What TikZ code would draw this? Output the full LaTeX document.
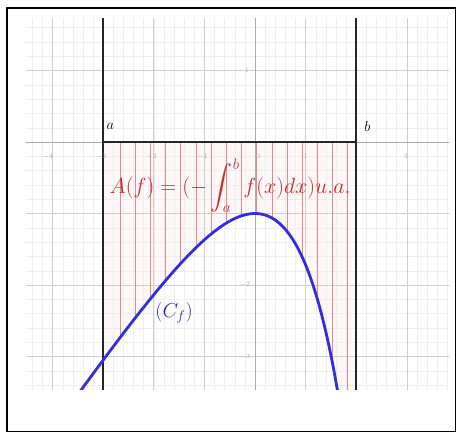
\documentclass[tikz,border=0pt]{standalone}
\usepackage{amsmath}
\usepackage{graphicx}
\definecolor{ggblue}{RGB}{50,45,225}
\definecolor{ggred}{RGB}{205,45,45}
\tikzset{
  minorgrid/.style={gray!13, line width=0.4pt},
  majorgrid/.style={gray!38, line width=0.6pt},
  axisline/.style={gray!65, line width=1pt},
  boundline/.style={black!85, line width=2.4pt},
  hatch/.style={ggred!55, line width=0.6pt},
  curve/.style={ggblue, line width=2.8pt},
  ticklbl/.style={gray!70, font=\sffamily\fontsize{7}{8}\selectfont, inner sep=1pt},
  ptlbl/.style={black, font=\fontsize{14.4}{17}\selectfont, inner sep=1pt}
}
\begin{document}
\begin{tikzpicture}[x=50.6pt,y=71.5pt]
\useasboundingbox (-5.0395,1.986) rectangle (3.992,-4.056);
\fill[white] (-5.0395,1.986) rectangle (3.992,-4.056);
\draw[black, line width=1.2pt] (-4.90,1.874) rectangle (3.955,-4.045);
\begin{scope}
  \clip (-4.526,-3.455) rectangle (3.834,1.734);
  \fill[ggred!4] (-3,0) -- plot[domain=-3:2, samples=80] (\x,{\x-exp(\x)}) -- (2,0) -- cycle;
  \draw[minorgrid, xstep=0.2, ystep=0.2] (-4.6,-3.6) grid (3.9,1.8);
  \draw[majorgrid, step=1] (-4.6,-3.6) grid (3.9,1.8);
  \draw[axisline] (-4.6,0) -- (3.9,0);
  \draw[axisline] (0,-3.6) -- (0,1.8);
  \foreach \i in {0,...,15} {
    \pgfmathsetmacro\u{-2.668+0.3*\i}
    \draw[hatch] (\u,0) -- (\u,{max(\u-exp(\u),-3.6)});
  }
  \draw[boundline] (-3,-3.6) -- (-3,1.8);
  \draw[boundline] (2,-3.6) -- (2,1.8);
  \draw[boundline] (-3,0) -- (2,0);
  % tick labels
  \node[ticklbl] (tx4) at (-4.09,-0.2) {$-4$};
  \node[ticklbl] (tx3) at (-3.04,-0.2) {$-3$};
  \node[ticklbl] (tx2) at (-2.04,-0.2) {$-2$};
  \node[ticklbl] (tx1) at (-1.04,-0.2) {$-1$};
  \node[ticklbl] (tx0) at (0.06,-0.2) {$0$};
  \node[ticklbl] (txp1) at (1.0,-0.2) {$1$};
  \node[ticklbl] (txp3) at (2.98,-0.2) {$3$};
  \node[ticklbl] (ty1) at (-0.16,1) {$1$};
  \node[ticklbl] (ty2) at (-0.2,-2) {$-2$};
  \node[ticklbl] (ty3) at (-0.2,-3) {$-3$};
  \draw[curve] plot[domain=-3.7:1.7, samples=160] (\x,{\x-exp(\x)});
\end{scope}
\node[ptlbl] (la) at (-2.86,0.22) {$a$};
\node[ptlbl] (lb) at (2.22,0.22) {$b$};
\node[ggred, font=\fontsize{17.28}{20}\selectfont, inner sep=0pt] (formula) at (-0.49,-0.61)
  {\scalebox{1.27}{$A(f)=(-\displaystyle\int_a^b f(x)dx)u.a.$}};
\node[ggblue!85!black, font=\fontsize{17.28}{20}\selectfont, inner sep=0pt] (cf) at (-1.60,-2.39)
  {\scalebox{1.17}{$(C_f)$}};
\end{tikzpicture}
\end{document}
